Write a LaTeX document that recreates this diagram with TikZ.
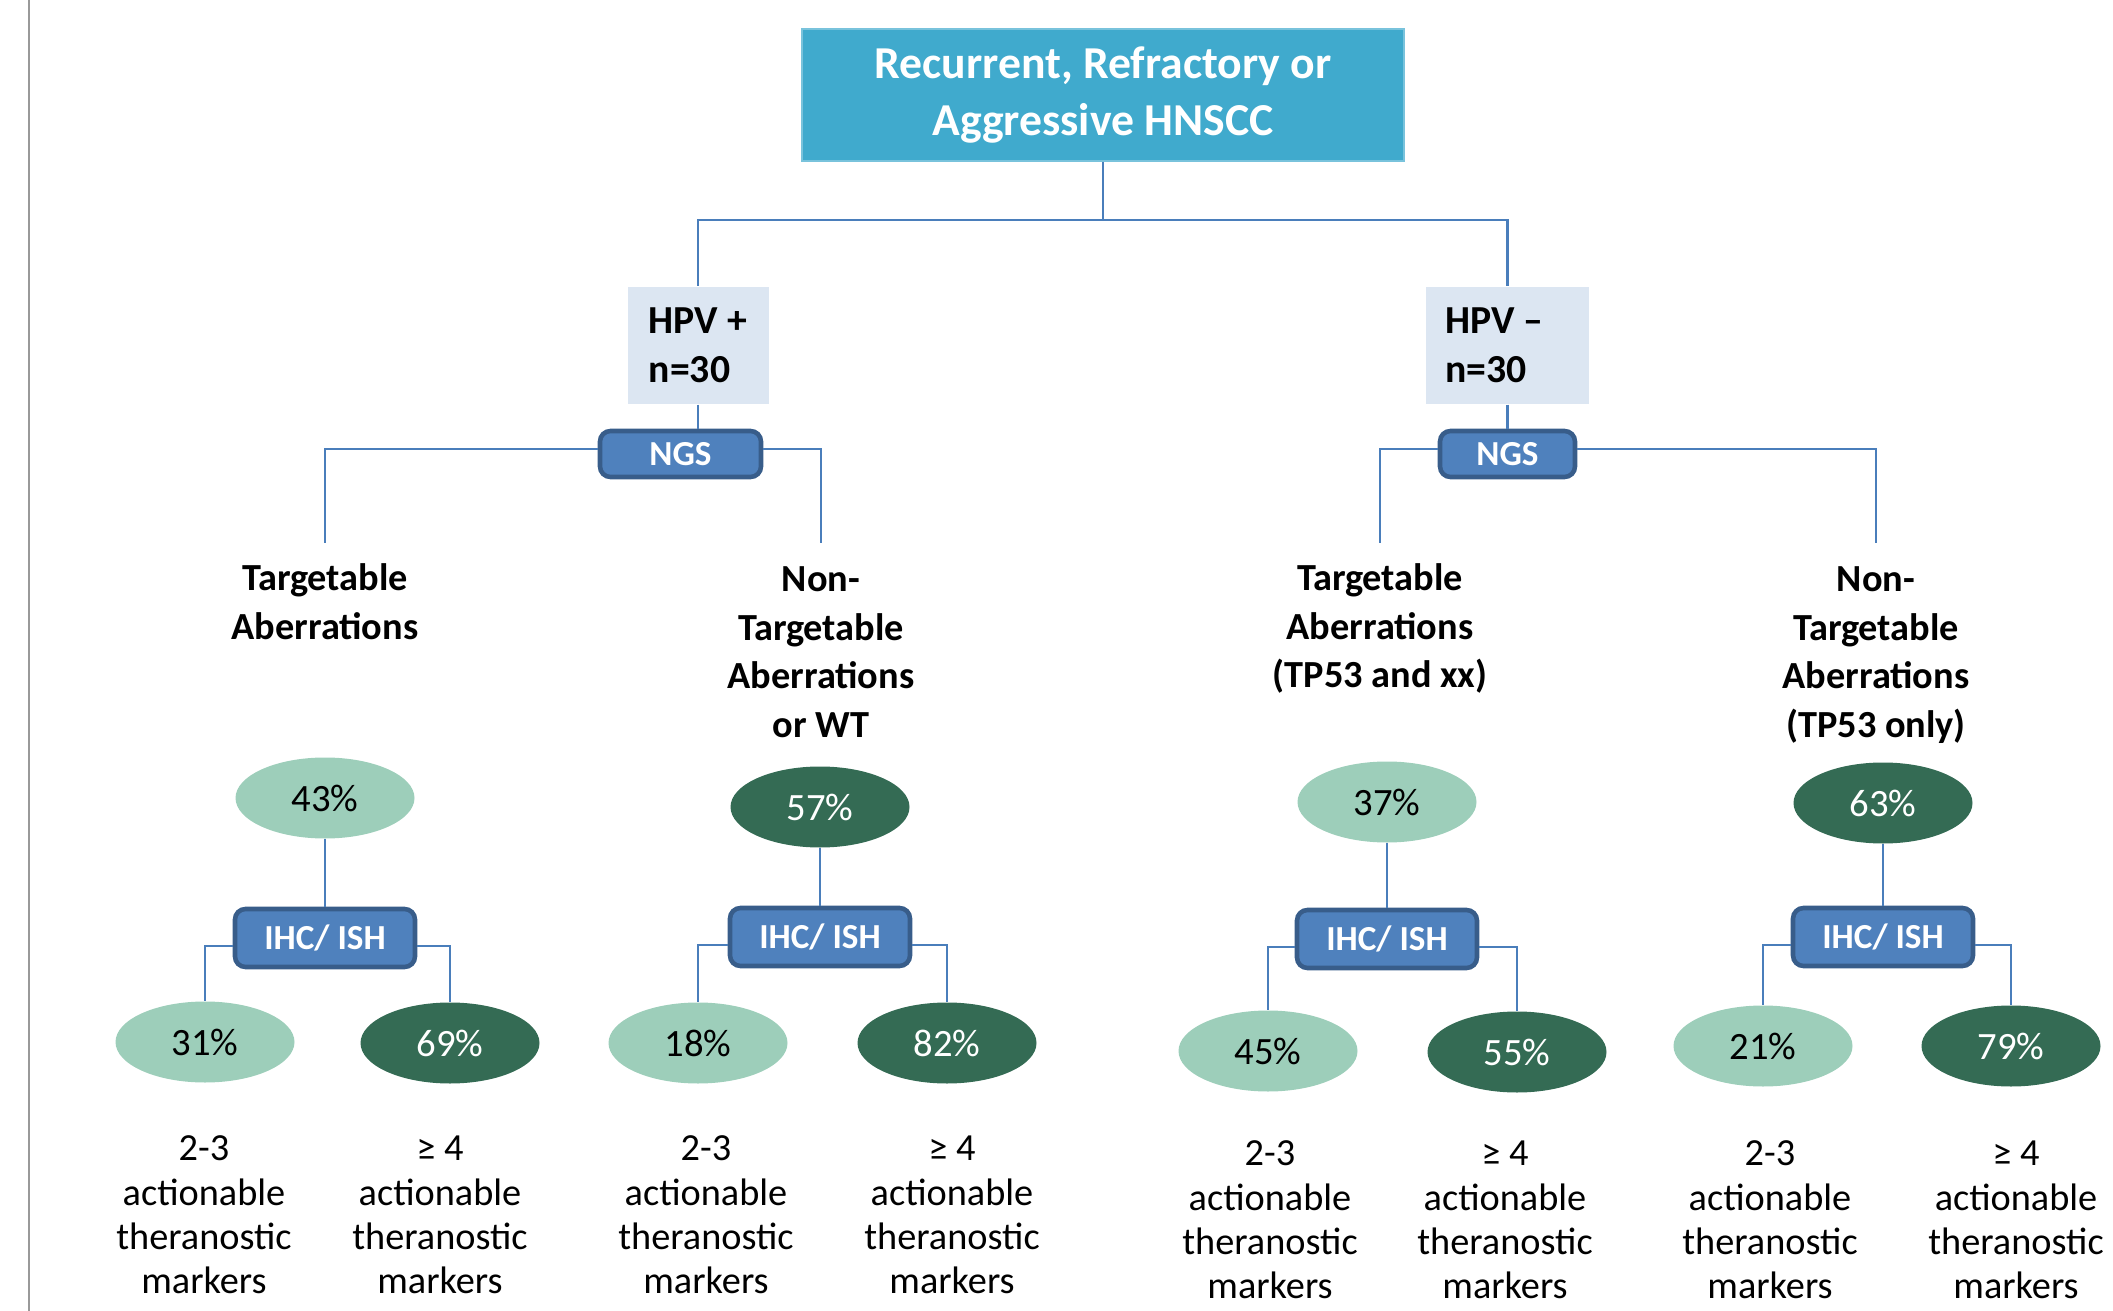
\documentclass[tikz,border=0pt]{standalone}
\usepackage{fontspec}
\setmainfont{Carlito}
\usepackage{tikz}
\usetikzlibrary{positioning, calc, shapes.geometric}

\definecolor{headblue}{RGB}{64,170,205}
\definecolor{hpvgray}{RGB}{220,230,242}
\definecolor{testblue}{RGB}{79,129,189}
\definecolor{testedge}{RGB}{56,93,138}
\definecolor{linkblue}{RGB}{74,126,187}
\definecolor{lightgreen}{RGB}{157,206,186}
\definecolor{darkgreen}{RGB}{52,107,84}

\tikzset{
  link/.style={draw=linkblue, line width=0.6pt},
  headbox/.style={fill=headblue, draw=headblue!70!white, line width=0.5pt, minimum width=6.02cm, minimum height=1.32cm,
    text=white, align=center, font=\fontsize{13}{16.2}\selectfont\bfseries},
  hpvbox/.style={fill=hpvgray, minimum height=1.17cm, align=left, inner sep=0pt,
    font=\fontsize{11.3}{13.8}\selectfont\bfseries},
  testbox/.style={rounded corners=3pt, fill=testblue, draw=testedge, line width=1.3pt, text=white,
    minimum height=0.46cm, inner sep=0pt, font=\fontsize{10}{12}\selectfont\bfseries},
  branchlabel/.style={align=center, anchor=north, inner sep=0pt, font=\fontsize{10.9}{13.8}\selectfont\bfseries},
  pctlow/.style={ellipse, fill=lightgreen, minimum width=1.79cm, minimum height=0.81cm, inner sep=0pt,
    font=\fontsize{11}{13}\selectfont},
  pcthigh/.style={pctlow, fill=darkgreen, text=white},
  markertext/.style={align=center, inner sep=0pt, font=\fontsize{10.9}{12.6}\selectfont}
}

\begin{document}
\begin{tikzpicture}
    \useasboundingbox (0,0) rectangle (21.13,-13.11);

    % --- Page edge ---
    \draw[black!40, line width=0.8pt] (0.29,0) -- (0.29,-13.11);

    % --- Root and HPV groups ---
    \node[headbox] (root) at (11.03,-0.95) {Recurrent, Refractory or\\Aggressive HNSCC};
    \node[hpvbox, minimum width=1.41cm] (hpvpos) at (6.98,-3.455) {HPV +\\n=30};
    \node[hpvbox, text width=1.25cm, inner xsep=0.19cm] (hpvneg) at (15.075,-3.455) {HPV\kern-0.1em{} --\\n=30};
    \draw[link] (root.south) -- ++(0,-0.58) -| (hpvpos.north);
    \draw[link] (root.south) -- ++(0,-0.58) -| (hpvneg.north);

    % --- NGS ---
    \node[testbox, minimum width=1.61cm] (ngspos) at (6.805,-4.54) {NGS};
    \node[testbox, minimum width=1.35cm] (ngsneg) at (15.075,-4.54) {NGS};
    \draw[link] (hpvpos.south) -- (hpvpos.south |- ngspos.north);
    \draw[link] (hpvneg.south) -- (ngsneg.north);

    % --- Aberration branches ---
    \node[branchlabel] (tapos) at (3.25,-5.63) {Targetable\\Aberrations};
    \node[branchlabel] (ntapos) at (8.21,-5.66) {Non-\\Targetable\\Aberrations\\or WT};
    \node[branchlabel] (taneg) at (13.80,-5.63) {Targetable\\Aberrations\\(TP53 and xx)};
    \node[branchlabel] (ntaneg) at (18.76,-5.66) {Non-\\Targetable\\Aberrations\\(TP53 only)};
    \draw[link, shorten >=0.2cm] ([yshift=0.5mm]ngspos.west) -| (tapos.north);
    \draw[link, shorten >=0.23cm] ([yshift=0.5mm]ngspos.east) -| (ntapos.north);
    \draw[link, shorten >=0.2cm] ([yshift=0.5mm]ngsneg.west) -| (taneg.north);
    \draw[link, shorten >=0.23cm] ([yshift=0.5mm]ngsneg.east) -| (ntaneg.north);

    % --- Shares per branch ---
    \node[pctlow] (p43) at (3.25,-7.98) {43\%};
    \node[pcthigh] (p57) at (8.20,-8.07) {57\%};
    \node[pctlow] (p37) at (13.87,-8.02) {37\%};
    \node[pcthigh] (p63) at (18.83,-8.03) {63\%};

    % --- IHC/ ISH ---
    \node[testbox, minimum width=1.8cm, minimum height=0.58cm] (ihca) at (3.25,-9.38) {IHC/ ISH};
    \node[testbox, minimum width=1.8cm, minimum height=0.58cm] (ihcb) at (8.20,-9.37) {IHC/ ISH};
    \node[testbox, minimum width=1.8cm, minimum height=0.58cm] (ihcc) at (13.87,-9.39) {IHC/ ISH};
    \node[testbox, minimum width=1.8cm, minimum height=0.58cm] (ihcd) at (18.83,-9.37) {IHC/ ISH};
    \draw[link] (p43) -- (ihca);
    \draw[link] (p57) -- (ihcb);
    \draw[link] (p37) -- (ihcc);
    \draw[link] (p63) -- (ihcd);

    % --- Marker shares ---
    \node[pctlow] (p31) at (2.05,-10.42) {31\%};
    \node[pcthigh] (p69) at (4.50,-10.43) {69\%};
    \node[pctlow] (p18) at (6.98,-10.43) {18\%};
    \node[pcthigh] (p82) at (9.47,-10.43) {82\%};
    \node[pctlow] (p45) at (12.68,-10.51) {45\%};
    \node[pcthigh] (p55) at (15.17,-10.52) {55\%};
    \node[pctlow] (p21) at (17.63,-10.46) {21\%};
    \node[pcthigh] (p79) at (20.11,-10.46) {79\%};
    \draw[link] ([yshift=-0.8mm]ihca.west) -| (p31.north);
    \draw[link] ([yshift=-0.8mm]ihca.east) -| (p69.north);
    \draw[link] ([yshift=-0.8mm]ihcb.west) -| (p18.north);
    \draw[link] ([yshift=-0.8mm]ihcb.east) -| (p82.north);
    \draw[link] ([yshift=-0.8mm]ihcc.west) -| (p45.north);
    \draw[link] ([yshift=-0.8mm]ihcc.east) -| (p55.north);
    \draw[link] ([yshift=-0.8mm]ihcd.west) -| (p21.north);
    \draw[link] ([yshift=-0.8mm]ihcd.east) -| (p79.north);

    % --- Marker counts ---
    \node[markertext] (m31) at (2.04,-12.15) {2-3\\actionable\\theranostic\\markers};
    \node[markertext] (m69) at (4.40,-12.15) {≥ 4\\actionable\\theranostic\\markers};
    \node[markertext] (m18) at (7.06,-12.15) {2-3\\actionable\\theranostic\\markers};
    \node[markertext] (m82) at (9.52,-12.15) {≥ 4\\actionable\\theranostic\\markers};
    \node[markertext] (m45) at (12.70,-12.20) {2-3\\actionable\\theranostic\\markers};
    \node[markertext] (m55) at (15.05,-12.20) {≥ 4\\actionable\\theranostic\\markers};
    \node[markertext] (m21) at (17.70,-12.20) {2-3\\actionable\\theranostic\\markers};
    \node[markertext] (m79) at (20.16,-12.20) {≥ 4\\actionable\\theranostic\\markers};
\end{tikzpicture}
\end{document}
